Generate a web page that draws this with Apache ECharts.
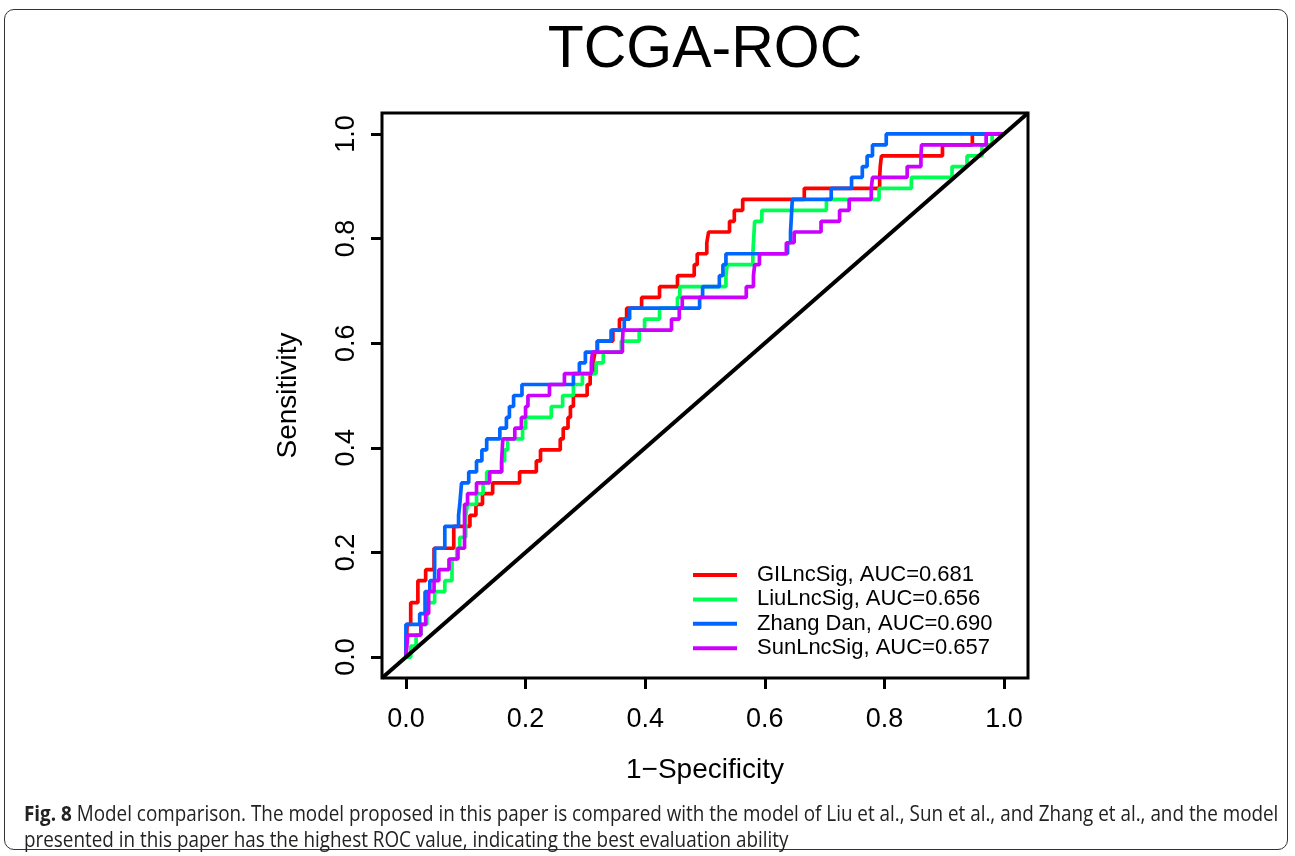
<!DOCTYPE html>
<html>
<head>
<meta charset="utf-8">
<script src="https://cdn.jsdelivr.net/npm/echarts@6/dist/echarts.min.js"></script>
<style>
  html, body { margin: 0; padding: 0; background: #fff; }
  .frame {
    position: absolute; left: 4px; top: 9px; width: 1284px; height: 841px;
    border: 1px solid #333; border-radius: 10px; box-sizing: border-box;
  }
  #chart { position: absolute; left: 0; top: 0; width: 1295px; height: 856px; }
  .caption {
    position: absolute; left: 24px; top: 800px;
    font-family: 'Open Sans', sans-serif; font-size: 21px; line-height: 26px;
    color: #222; white-space: nowrap; transform-origin: 0 0;
  }
  .caption b { font-weight: 700; }
</style>
</head>
<body>
<div class="frame"></div>
<div id="chart"></div>
<div class="caption" id="caption">
  <div id="capLine1"><b>Fig. 8</b> Model comparison. The model proposed in this paper is compared with the model of Liu et al., Sun et al., and Zhang et al., and the model</div>
  <div>presented in this paper has the highest ROC value, indicating the best evaluation ability</div>
</div>
<script>
// [1-specificity, sensitivity] where each curve steps up
const giLncSig = [[0, 0], [0.002, 0.0625], [0.008, 0.104], [0.02, 0.146], [0.033, 0.167], [0.047, 0.208],
  [0.08, 0.25], [0.107, 0.271], [0.117, 0.292], [0.128, 0.3125], [0.145, 0.333], [0.19, 0.354],
  [0.218, 0.375], [0.225, 0.396], [0.258, 0.417], [0.263, 0.4375], [0.271, 0.458], [0.275, 0.479],
  [0.28, 0.5], [0.303, 0.521], [0.308, 0.542], [0.313, 0.5625], [0.316, 0.583], [0.32, 0.604],
  [0.346, 0.625], [0.357, 0.646], [0.369, 0.667], [0.394, 0.6875], [0.424, 0.708], [0.454, 0.729],
  [0.482, 0.75], [0.487, 0.771], [0.503, 0.792], [0.506, 0.8125], [0.541, 0.833], [0.549, 0.854],
  [0.563, 0.875], [0.666, 0.896], [0.792, 0.917], [0.793, 0.938], [0.795, 0.958], [0.897, 0.979],
  [0.947, 1], [1, 1]]
const liuLncSig = [[0, 0], [0.008, 0.021], [0.017, 0.042], [0.025, 0.0625], [0.035, 0.104], [0.048, 0.125],
  [0.065, 0.146], [0.077, 0.1875], [0.085, 0.208], [0.09, 0.229], [0.1, 0.271], [0.103, 0.292],
  [0.118, 0.3125], [0.129, 0.333], [0.135, 0.354], [0.16, 0.375], [0.165, 0.396], [0.17, 0.417],
  [0.195, 0.4375], [0.2, 0.458], [0.243, 0.479], [0.262, 0.5], [0.28, 0.521], [0.295, 0.542],
  [0.318, 0.5625], [0.33, 0.583], [0.36, 0.604], [0.39, 0.625], [0.399, 0.646], [0.424, 0.667],
  [0.454, 0.6875], [0.458, 0.708], [0.535, 0.729], [0.537, 0.75], [0.58, 0.771], [0.583, 0.833],
  [0.595, 0.854], [0.703, 0.875], [0.791, 0.896], [0.845, 0.917], [0.913, 0.9375], [0.938, 0.958],
  [0.963, 0.979], [0.98, 1], [1, 1]]
const zhangDan = [[0, 0], [0, 0.0625], [0.023, 0.083], [0.032, 0.125], [0.04, 0.146], [0.048, 0.208],
  [0.065, 0.25], [0.088, 0.271], [0.09, 0.292], [0.093, 0.333], [0.105, 0.354], [0.118, 0.375],
  [0.127, 0.396], [0.135, 0.417], [0.157, 0.4375], [0.168, 0.458], [0.173, 0.479], [0.18, 0.5],
  [0.194, 0.521], [0.28, 0.542], [0.29, 0.5625], [0.3, 0.583], [0.32, 0.604], [0.343, 0.625],
  [0.365, 0.646], [0.374, 0.667], [0.491, 0.6875], [0.496, 0.708], [0.524, 0.729], [0.53, 0.75],
  [0.535, 0.771], [0.638, 0.792], [0.643, 0.813], [0.646, 0.875], [0.711, 0.896], [0.745, 0.917],
  [0.763, 0.9375], [0.771, 0.958], [0.78, 0.979], [0.803, 1], [1, 1]]
const sunLncSig = [[0, 0], [0.003, 0.042], [0.025, 0.0625], [0.033, 0.083], [0.038, 0.125], [0.047, 0.146],
  [0.055, 0.167], [0.072, 0.1875], [0.087, 0.208], [0.098, 0.292], [0.103, 0.3125], [0.118, 0.333],
  [0.14, 0.354], [0.16, 0.375], [0.162, 0.417], [0.182, 0.4375], [0.193, 0.458], [0.2, 0.479],
  [0.204, 0.5], [0.24, 0.521], [0.265, 0.542], [0.31, 0.5625], [0.312, 0.583], [0.362, 0.604],
  [0.363, 0.625], [0.444, 0.646], [0.457, 0.667], [0.462, 0.6875], [0.569, 0.708], [0.581, 0.729],
  [0.583, 0.75], [0.591, 0.771], [0.636, 0.792], [0.649, 0.8125], [0.694, 0.833], [0.725, 0.854],
  [0.741, 0.875], [0.778, 0.896], [0.78, 0.917], [0.838, 0.9375], [0.861, 0.958], [0.862, 0.979],
  [0.97, 1], [1, 1]]
const diagonal = [[-0.04, -0.04], [1.04, 1.04]]

const names = ['GILncSig, AUC=0.681', 'LiuLncSig, AUC=0.656', 'Zhang Dan, AUC=0.690', 'SunLncSig, AUC=0.657']
const colors = ['#FF0000', '#00FF55', '#0066FF', '#CC00FF']
const tickValues = [0, 0.2, 0.4, 0.6, 0.8, 1.0]

const font = "'Liberation Sans', Arial, sans-serif"
const chart = echarts.init(document.getElementById('chart'))

const axisCommon = {
  type: 'value',
  min: -0.04,
  max: 1.04,
  nameLocation: 'middle',
  nameTextStyle: { fontFamily: font, fontSize: 28, color: '#000' },
  axisLine: { show: false, onZero: false },
  splitLine: { show: false },
  axisTick: {
    show: true,
    length: 11,
    customValues: tickValues,
    lineStyle: { color: '#000', width: 3 }
  },
  axisLabel: {
    customValues: tickValues,
    fontFamily: font,
    fontSize: 27,
    color: '#000',
    formatter: (v) => v.toFixed(1)
  }
}

const curves = [giLncSig, liuLncSig, zhangDan, sunLncSig].map((data, i) => ({
  name: names[i],
  type: 'line',
  step: 'end',
  symbol: 'none',
  data: data,
  z: 2 + i,
  lineStyle: { color: colors[i], width: 3.7 },
  itemStyle: { color: colors[i] }
}))

chart.setOption({
  animation: false,
  title: {
    text: 'TCGA-ROC',
    left: 700,
    top: 16,
    textAlign: 'center',
    textStyle: { fontFamily: font, fontSize: 59, fontWeight: 'normal', color: '#000' }
  },
  grid: {
    left: 382, top: 113, width: 646, height: 565,
    show: true, borderColor: '#000', borderWidth: 3, backgroundColor: 'transparent'
  },
  legend: {
    orient: 'vertical',
    left: 688,
    top: 559,
    icon: 'rect',
    itemWidth: 44,
    itemHeight: 4,
    itemGap: 2.4,
    data: names,
    textStyle: { fontFamily: font, fontSize: 22, color: '#000', padding: [0, 0, 0, 15] }
  },
  xAxis: Object.assign({}, axisCommon, {
    name: '1\u2212Specificity',
    nameGap: 78,
    axisLabel: Object.assign({}, axisCommon.axisLabel, { margin: 28 })
  }),
  yAxis: Object.assign({}, axisCommon, {
    name: 'Sensitivity',
    nameGap: 80,
    nameRotate: 90,
    axisLabel: Object.assign({}, axisCommon.axisLabel, { rotate: 90, margin: 22 })
  }),
  series: curves.concat([{
    type: 'line',
    data: diagonal,
    symbol: 'none',
    silent: true,
    z: 10,
    lineStyle: { color: '#000', width: 4 }
  }])
})

// stretch the caption so its first line ends where the reference does
const line1 = document.getElementById('capLine1')
const scale = 1254 / line1.scrollWidth
document.getElementById('caption').style.transform = 'scaleX(' + scale + ')'
</script>
</body>
</html>
